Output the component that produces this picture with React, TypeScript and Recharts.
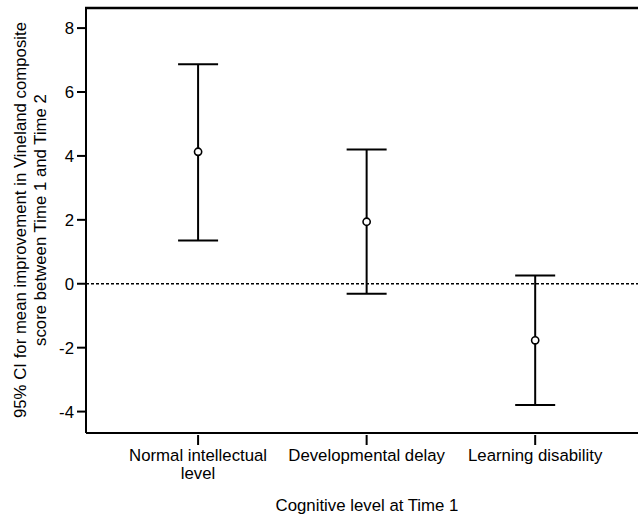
import React from "react";
import {
  ScatterChart,
  Scatter,
  XAxis,
  YAxis,
  ErrorBar,
  ReferenceLine,
} from "recharts";

// Cognitive level groups (x) and 95% CI of mean improvement (y)
const categories = ["Normal intellectual level", "Developmental delay", "Learning disability"];
const categoryLines = [["Normal intellectual", "level"], ["Developmental delay"], ["Learning disability"]];
const means = [4.13, 1.94, -1.77];
const lowers = [1.35, -0.31, -3.79];
const uppers = [6.87, 4.2, 0.26];
const yTicks = [-4, -2, 0, 2, 4, 6, 8];
const yDomain = [-4.67, 8.66];
const xDomain = [0.335, 3.61];

const FONT = "'Liberation Sans', Arial, sans-serif";

const rows = categories.map((name, i) => ({
  x: i + 1,
  name,
  mean: means[i],
  err: [means[i] - lowers[i], uppers[i] - means[i]],
}));

function XTick(props: any) {
  const { x, y, payload } = props;
  const lines = categoryLines[payload.value - 1] || [];
  return (
    <g>
      <line x1={x} x2={x} y1={y - 18} y2={y - 8} stroke="#000" strokeWidth={2} />
      <text x={x} y={y + 8} textAnchor="middle" fontSize={16.8} fontFamily={FONT} fill="#000">
        {lines.map((l: string, k: number) => (
          <tspan key={k} x={x} dy={k === 0 ? 0 : 17.5}>
            {l}
          </tspan>
        ))}
      </text>
    </g>
  );
}

function Marker(props: any) {
  const { cx, cy } = props;
  return <circle cx={cx} cy={cy} r={3.6} fill="#fff" stroke="#000" strokeWidth={1.6} />;
}

function YLabel(props: any) {
  const vb = props.viewBox;
  const cy = vb.y + vb.height / 2;
  const right = vb.x + vb.width;
  return (
    <g>
      <g fontSize={16.8} fontFamily={FONT} fill="#000">
        <text x={20} y={cy} transform={`rotate(-90 20 ${cy})`} textAnchor="middle" dominantBaseline="central">
          95% CI for mean improvement in Vineland composite
        </text>
        <text x={40} y={cy} transform={`rotate(-90 40 ${cy})`} textAnchor="middle" dominantBaseline="central">
          score between Time 1 and Time 2
        </text>
      </g>
      {/* top edge of the plot frame, from the axis' own top */}
      <line x1={right - 1} x2={638} y1={vb.y + 1} y2={vb.y + 1} stroke="#000" strokeWidth={2.5} />
    </g>
  );
}

function XLabel() {
  return (
    <text x={367} y={511} textAnchor="middle" fontSize={16.8} fontFamily={FONT} fill="#000">
      Cognitive level at Time 1
    </text>
  );
}

export default function App() {
  return (
    <div style={{ position: "absolute", left: 0, top: 0, background: "#fff" }}>
      <ScatterChart width={638} height={518} margin={{ top: 7, right: 0, left: 0, bottom: 0 }}>
        <XAxis
          dataKey="x"
          type="number"
          domain={xDomain}
          ticks={[1, 2, 3]}
          tick={<XTick />}
          tickLine={false}
          tickSize={18}
          height={85}
          axisLine={{ stroke: "#000", strokeWidth: 2 }}
          label={<XLabel />}
        />
        <YAxis
          dataKey="mean"
          type="number"
          domain={yDomain}
          ticks={yTicks}
          width={86}
          interval={0}
          tickSize={9}
          tickMargin={3}
          tick={{ fontSize: 16.8, fontFamily: FONT, fill: "#000" }}
          tickLine={{ stroke: "#000", strokeWidth: 2 }}
          axisLine={{ stroke: "#000", strokeWidth: 2 }}
          label={<YLabel />}
        />
        <ReferenceLine y={0} stroke="#000" strokeWidth={1.5} strokeDasharray="3 2" />
        <Scatter data={rows} dataKey="mean" shape={<Marker />} isAnimationActive={false}>
          <ErrorBar
            dataKey="err"
            direction="y"
            width={20}
            stroke="#000"
            strokeWidth={2}
            isAnimationActive={false}
          />
        </Scatter>
      </ScatterChart>
    </div>
  );
}
